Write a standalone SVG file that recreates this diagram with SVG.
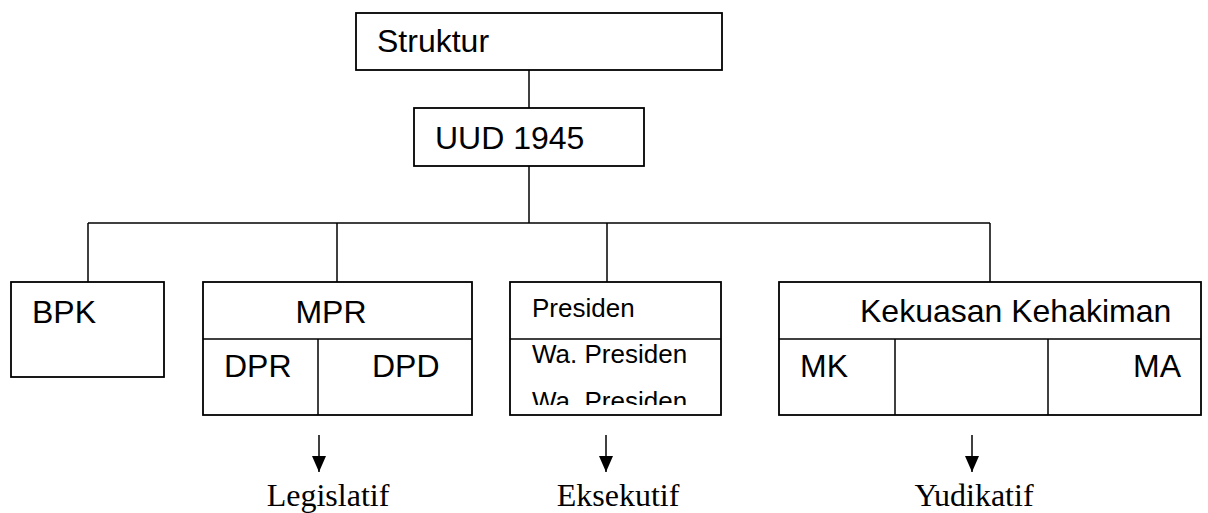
<svg xmlns="http://www.w3.org/2000/svg" width="1208" height="513" viewBox="0 0 1208 513">
<style>
.box{fill:#fff;stroke:#000;stroke-width:1.8}
.div{stroke:#000;stroke-width:1.5;fill:none}
.conn{stroke:#000;stroke-width:1.5;fill:none}
.t{font-family:"Liberation Sans",Arial,sans-serif;font-size:32px;fill:#000}
.s{font-family:"Liberation Sans",Arial,sans-serif;font-size:26px;fill:#000}
.lbl{font-family:"Liberation Serif","Times New Roman",serif;font-size:32px;fill:#000;text-anchor:middle}
</style>
<defs>
<marker id="arr" markerWidth="16" markerHeight="14" refX="16" refY="7" orient="auto" markerUnits="userSpaceOnUse" viewBox="0 0 16 14">
<path d="M0,0 L16,7 L0,14 Z" fill="#000"/>
</marker>
<clipPath id="pclip"><rect x="510" y="339" width="211" height="66"/></clipPath>
</defs>
<rect width="1208" height="513" fill="#fff"/>
<g id="connectors">
<line class="conn" x1="529" y1="70" x2="529" y2="108"/>
<line class="conn" x1="529" y1="166" x2="529" y2="223"/>
<line class="conn" x1="88" y1="223" x2="990" y2="223"/>
<line class="conn" x1="88" y1="223" x2="88" y2="282"/>
<line class="conn" x1="337" y1="223" x2="337" y2="282"/>
<line class="conn" x1="607" y1="223" x2="607" y2="282"/>
<line class="conn" x1="990" y1="223" x2="990" y2="282"/>
<line class="conn" x1="319" y1="435" x2="319" y2="472" marker-end="url(#arr)"/>
<line class="conn" x1="606" y1="435" x2="606" y2="472" marker-end="url(#arr)"/>
<line class="conn" x1="972" y1="435" x2="972" y2="472" marker-end="url(#arr)"/>
</g>
<g id="struktur">
<rect class="box" x="356" y="13" width="366" height="57"/>
<text class="t" x="377" y="52">Struktur</text>
</g>
<g id="uud">
<rect class="box" x="414" y="108" width="230" height="58"/>
<text class="t" x="435" y="149">UUD 1945</text>
</g>
<g id="bpk">
<rect class="box" x="11" y="282" width="153" height="95"/>
<text class="t" x="32" y="323">BPK</text>
</g>
<g id="mpr">
<rect class="box" x="203" y="282" width="269" height="133"/>
<line class="div" x1="203" y1="339" x2="472" y2="339"/>
<line class="div" x1="318" y1="339" x2="318" y2="415"/>
<text class="t" x="331" y="323" text-anchor="middle">MPR</text>
<text class="t" x="224" y="377">DPR</text>
<text class="t" x="372" y="377">DPD</text>
</g>
<g id="presiden">
<rect class="box" x="510" y="282" width="211" height="133"/>
<line class="div" x1="510" y1="339" x2="721" y2="339"/>
<text class="s" x="532" y="317">Presiden</text>
<g clip-path="url(#pclip)">
<text class="s" x="532" y="363">Wa. Presiden</text>
<text class="s" x="532" y="410">Wa. Presiden</text>
</g>
</g>
<g id="kehakiman">
<rect class="box" x="779" y="282" width="422" height="133"/>
<line class="div" x1="779" y1="339" x2="1201" y2="339"/>
<line class="div" x1="895" y1="339" x2="895" y2="415"/>
<line class="div" x1="1048" y1="339" x2="1048" y2="415"/>
<text class="t" x="860" y="322">Kekuasan Kehakiman</text>
<text class="t" x="800" y="377">MK</text>
<text class="t" x="1181" y="377" text-anchor="end">MA</text>
</g>
<g id="labels">
<text class="lbl" x="328" y="506">Legislatif</text>
<text class="lbl" x="618" y="506">Eksekutif</text>
<text class="lbl" x="974" y="506">Yudikatif</text>
</g>
</svg>
